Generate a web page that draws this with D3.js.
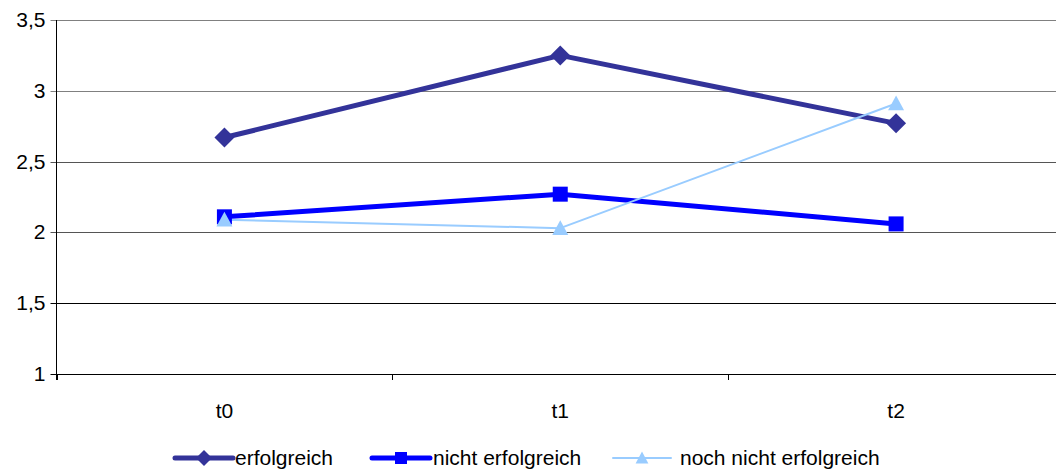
<!DOCTYPE html>
<html>
<head>
<meta charset="utf-8">
<script src="https://cdn.jsdelivr.net/npm/d3@7"></script>
<style>
  html, body { margin: 0; padding: 0; background: #fff; }
  svg { display: block; font-family: Arial, "Liberation Sans", sans-serif; }
</style>
</head>
<body>
<svg id="chart" width="1056" height="473"></svg>
<script>
// Zeitpunkte und Mittelwerte der drei Gruppen
const categories = ["t0", "t1", "t2"];
const erfolgreich = [2.67, 3.25, 2.77];
const nichtErfolgreich = [2.11, 2.27, 2.06];
const nochNichtErfolgreich = [2.09, 2.03, 2.91];
const yTicks = [1, 1.5, 2, 2.5, 3, 3.5];
const seriesNames = ["erfolgreich", "nicht erfolgreich", "noch nicht erfolgreich"];

const series = [
  { name: seriesNames[0], values: erfolgreich, color: "#333399", width: 5, shape: "diamond" },
  { name: seriesNames[1], values: nichtErfolgreich, color: "#0000FF", width: 5, shape: "square" },
  { name: seriesNames[2], values: nochNichtErfolgreich, color: "#99CCFF", width: 2, shape: "triangle" }
];

const svg = d3.select("#chart");
const plotLeft = 56.5, plotRight = 1064, plotTop = 20, plotBottom = 374;
const fontSize = 21;

const x = d3.scalePoint().domain(categories).range([plotLeft, plotRight]).padding(0.5);
const y = d3.scaleLinear().domain([1, 3.5]).range([plotBottom, plotTop]);
const step = x.step();

// horizontal gridlines
const gridColor = d => d >= 3 ? "#808080" : d >= 2 ? "#555" : "#000";
svg.append("g").selectAll("line").data(yTicks).join("line")
  .attr("x1", plotLeft - 6).attr("x2", 1056)
  .attr("y1", d => Math.round(y(d)) + 0.5).attr("y2", d => Math.round(y(d)) + 0.5)
  .attr("stroke", gridColor).attr("stroke-width", 1);

// y axis
svg.append("line").attr("x1", plotLeft).attr("x2", plotLeft)
  .attr("y1", plotTop).attr("y2", plotBottom + 6).attr("stroke", "#000");

svg.append("g").selectAll("text").data(yTicks).join("text")
  .attr("x", plotLeft - 11).attr("y", d => Math.round(y(d)) + 7)
  .attr("text-anchor", "end").attr("font-size", fontSize).attr("fill", "#000")
  .text(d => d3.format(".1~f")(d).replace(".", ","));

// x axis tick marks between categories
const boundaries = d3.range(categories.length + 1).map(i => plotLeft + i * step);
svg.append("g").selectAll("line").data(boundaries).join("line")
  .attr("x1", d => Math.round(d) + 0.5).attr("x2", d => Math.round(d) + 0.5)
  .attr("y1", plotBottom).attr("y2", plotBottom + 6).attr("stroke", "#000");

svg.append("g").selectAll("text").data(categories).join("text")
  .attr("x", d => x(d)).attr("y", 418)
  .attr("text-anchor", "middle").attr("font-size", fontSize).attr("fill", "#000")
  .text(d => d);

// marker shapes
function marker(g, shape, color, cx, cy, scale) {
  const s = scale || 1;
  if (shape === "diamond") {
    const r = 10 * s;
    g.append("path").attr("d", `M${cx},${cy - r}L${cx + r},${cy}L${cx},${cy + r}L${cx - r},${cy}Z`).attr("fill", color);
  } else if (shape === "square") {
    const h = 7.5 * s;
    g.append("rect").attr("x", cx - h).attr("y", cy - h).attr("width", 2 * h).attr("height", 2 * h).attr("fill", color);
  } else {
    const h = 8 * s;
    g.append("path").attr("d", `M${cx},${cy - h}L${cx + h},${cy + h * 0.85}L${cx - h},${cy + h * 0.85}Z`).attr("fill", color);
  }
}

const line = d3.line().x((d, i) => x(categories[i])).y(d => y(d));
const plot = svg.append("g");
series.forEach(s => {
  plot.append("path").datum(s.values).attr("d", line)
    .attr("fill", "none").attr("stroke", s.color).attr("stroke-width", s.width)
    .attr("stroke-linejoin", "round");
});
series.forEach(s => {
  const g = plot.append("g");
  s.values.forEach((v, i) => marker(g, s.shape, s.color, x(categories[i]), y(v)));
});

// legend
const legendItems = [
  { x0: 175, tx: 235 },
  { x0: 372, tx: 433 },
  { x0: 613, tx: 680 }
];
const ly = 458;
const legend = svg.append("g");
series.forEach((s, i) => {
  const it = legendItems[i];
  const g = legend.append("g");
  g.append("line").attr("x1", it.x0).attr("x2", it.x0 + 58).attr("y1", ly).attr("y2", ly)
    .attr("stroke", s.color).attr("stroke-width", s.width).attr("stroke-linecap", "round");
  marker(g, s.shape, s.color, it.x0 + 29, ly, 0.8);
  g.append("text").attr("x", it.tx).attr("y", ly + 7).attr("font-size", fontSize).attr("fill", "#000").text(s.name);
});
</script>
</body>
</html>
